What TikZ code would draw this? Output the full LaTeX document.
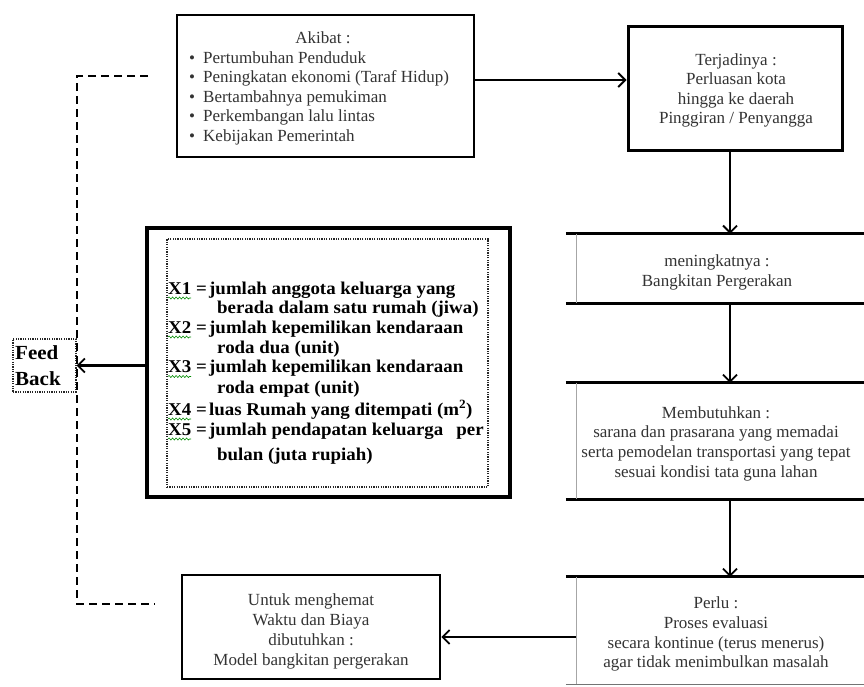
\documentclass[tikz,border=0pt]{standalone}
\usepackage{fontspec}
\setmainfont{Liberation Serif}
\newfontfamily\bfx[FakeStretch=1.05]{Liberation Serif}
\usetikzlibrary{arrows.meta,decorations.pathmorphing}
\begin{document}
\begin{tikzpicture}[x=1pt,y=-1pt,
 box/.style={draw=black,line width=2.6pt,inner sep=0pt},
 thickbox/.style={draw=black,line width=4pt,inner sep=0pt},
 dotbox/.style={draw=black!85,line width=1.2pt,dash pattern=on 1.2pt off 1.2pt,inner sep=0pt},
 openbox/.style={inner sep=0pt},
 rline/.style={line width=2.8pt},
 faint/.style={draw=black!35,line width=0.6pt},
 txt/.style={font=\fontsize{17}{19.5}\selectfont,text=black!80,inner sep=0pt},
 btxt/.style={font=\bfx\bfseries\fontsize{18}{20}\selectfont,text=black,inner sep=0pt},
 fbtxt/.style={font=\bfx\bfseries\fontsize{20}{22}\selectfont,text=black,inner sep=0pt},
 arr/.style={line width=2pt,-{Straight Barb[length=7pt,width=14pt,line width=1.8pt]}},
 fbline/.style={line width=2pt,dash pattern=on 8pt off 5pt},
 squig/.style={green!55!black,line width=0.6pt,decorate,decoration={snake,amplitude=1pt,segment length=3.5pt}}
]
\useasboundingbox (0,0) rectangle (864,686);
\fill[white] (0,0) rectangle (864,686);
\clip (0,0) rectangle (864,686);

% boxes
\node[box,minimum width=297pt,minimum height=142pt] (akibat) at (325.5,86) {};
\node[box,line width=3pt,minimum width=214pt,minimum height=124pt] (ter) at (735,88) {};
\node[thickbox,minimum width=363pt,minimum height=269pt] (big) at (328.5,362.5) {};
\node[dotbox,minimum width=321pt,minimum height=248pt] (inner) at (327.5,363) {};
\node[dotbox,minimum width=63pt,minimum height=53pt] (fb) at (44.5,365.5) {};
\node[box,minimum width=258pt,minimum height=104pt] (untuk) at (311,627) {};
\node[openbox,minimum width=304pt,minimum height=69pt] (men) at (728,268.5) {};
\node[openbox,minimum width=304pt,minimum height=116pt] (mem) at (728,441) {};
\node[openbox,minimum width=304pt,minimum height=107pt] (perlu) at (728,630.5) {};

\foreach \b in {men,mem}{
  \draw[rline] ([xshift=-10pt]\b.north west) -- (\b.north east);
  \draw[rline] ([xshift=-10pt]\b.south west) -- (\b.south east);
  \draw[faint] (\b.north west) -- (\b.south west);
}
\draw[rline] ([xshift=-10pt]perlu.north west) -- (perlu.north east);
\draw[black!55,line width=1pt] ([xshift=-10pt]perlu.south west) -- (perlu.south east);
\draw[faint] (perlu.north west) -- (perlu.south west);

% connectors
\draw[arr] ([yshift=6pt]akibat.east) -- ([yshift=6pt]akibat.east -| ter.west);
\draw[arr] ([xshift=-5pt]ter.south) -- ([xshift=-5pt]ter.south |- men.north);
\draw[arr] ([xshift=2pt]men.south) -- ([xshift=2pt]men.south |- mem.north);
\draw[arr] ([xshift=2pt]mem.south) -- ([xshift=2pt]mem.south |- perlu.north);
\draw[arr] ([yshift=-6.5pt]perlu.west) -- ([yshift=-6.5pt]perlu.west -| untuk.east);
\draw[arr,line width=2.4pt] (big.west |- fb.east) -- (fb.east);

% feedback dashed line
\coordinate (d1) at (148,76);
\coordinate (d2) at (77,76);
\coordinate (d3) at (77,604);
\coordinate (d4) at (155,604);
\draw[fbline] (d1) -- (d2) -- (d3) -- (d4);

% Akibat text
\node[txt,anchor=base] (a0) at (323,43) {Akibat :};
\foreach \i/\y/\t in {1/63/Pertumbuhan Penduduk,2/82.5/Peningkatan ekonomi (Taraf Hidup),3/102/Bertambahnya pemukiman,4/121.5/Perkembangan lalu lintas,5/141/Kebijakan Pemerintah}{
  \node[txt,anchor=base west] (a\i) at (189,\y) {\makebox[14pt][l]{\textbullet}\t};
}

% Terjadinya text
\node[txt,anchor=base] (t1) at (736,65) {Terjadinya :};
\node[txt,anchor=base] (t2) at (736,84.5) {Perluasan kota};
\node[txt,anchor=base] (t3) at (736,104) {hingga ke daerah};
\node[txt,anchor=base] (t4) at (736,123.5) {Pinggiran / Penyangga};

% meningkatnya
\node[txt,anchor=base] (m1) at (717,266) {meningkatnya :};
\node[txt,anchor=base] (m2) at (717,286) {Bangkitan Pergerakan};

% Membutuhkan
\node[txt,anchor=base] (b1) at (716,418) {Membutuhkan :};
\node[txt,anchor=base] (b2) at (716,437) {sarana dan prasarana yang memadai};
\node[txt,anchor=base] (b3) at (716,457) {serta pemodelan transportasi yang tepat};
\node[txt,anchor=base] (b4) at (716,477) {sesuai kondisi tata guna lahan};

% Perlu
\node[txt,anchor=base] (p1) at (716,608) {Perlu :};
\node[txt,anchor=base] (p2) at (716,628) {Proses evaluasi};
\node[txt,anchor=base] (p3) at (716,648) {secara kontinue (terus menerus)};
\node[txt,anchor=base] (p4) at (716,667) {agar tidak menimbulkan masalah};

% Untuk
\node[txt,anchor=base] (u1) at (311,605) {Untuk menghemat};
\node[txt,anchor=base] (u2) at (311,625) {Waktu dan Biaya};
\node[txt,anchor=base] (u3) at (311,645) {dibutuhkan :};
\node[txt,anchor=base] (u4) at (311,665) {Model bangkitan pergerakan};

% variables
\foreach \i/\y in {1/294,2/333,3/372.5,4/415,5/435}{
  \node[btxt,anchor=base west] (x\i) at (168,\y) {X\i\ =};
  \draw[squig] ([yshift=-4pt]x\i.base west) -- ++(23,0);
}
\node[btxt,anchor=base west] (v1) at (209,294) {jumlah anggota keluarga yang};
\node[btxt,anchor=base west] (c1) at (217,313.5) {berada dalam satu rumah (jiwa)};
\node[btxt,anchor=base west] (v2) at (209,333) {jumlah kepemilikan kendaraan};
\node[btxt,anchor=base west] (c2) at (217,353) {roda dua (unit)};
\node[btxt,anchor=base west] (v3) at (209,372.5) {jumlah kepemilikan kendaraan};
\node[btxt,anchor=base west] (c3) at (217,393) {roda empat (unit)};
\node[btxt,anchor=base west] (v4) at (209,415) {luas Rumah yang ditempati (m\textsuperscript{2})};
\node[btxt,anchor=base west] (v5) at (209,435) {jumlah pendapatan keluarga\hspace{13pt}per};
\node[btxt,anchor=base west] (c5) at (217,460) {bulan (juta rupiah)};

% Feed Back
\node[fbtxt,anchor=base west] (f1) at (15,359) {Feed};
\node[fbtxt,anchor=base west] (f2) at (15,385) {Back};
\end{tikzpicture}
\end{document}
